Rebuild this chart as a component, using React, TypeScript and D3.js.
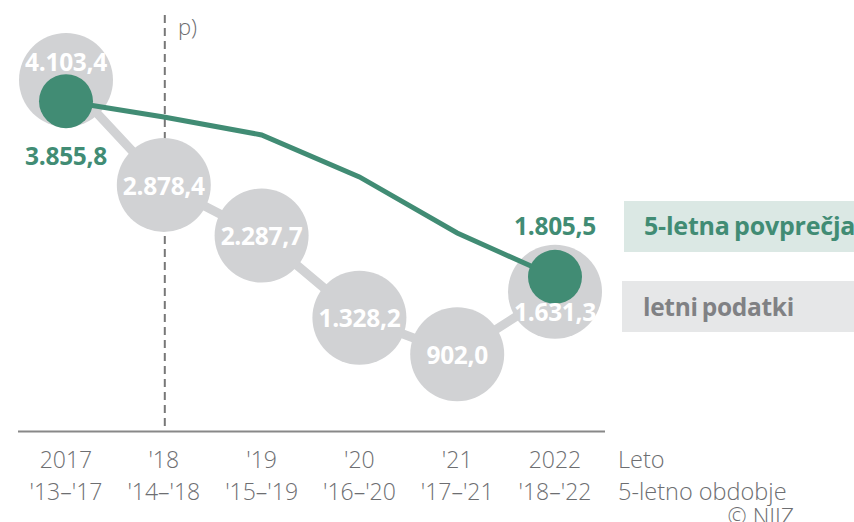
import React from "react";
import * as d3 from "d3";

const years = ["2017", "'18", "'19", "'20", "'21", "2022"];
const periods = ["'13–'17", "'14–'18", "'15–'19", "'16–'20", "'17–'21", "'18–'22"];
const yearly = [4103.4, 2878.4, 2287.7, 1328.2, 902.0, 1631.3];
const avg5 = [3855.8, 3672, 3462, 2972, 2318, 1805.5];
const yearlyLabels = ["4.103,4", "2.878,4", "2.287,7", "1.328,2", "902,0", "1.631,3"];
const avgLabels: (string | null)[] = ["3.855,8", null, null, null, null, "1.805,5"];

const W = 854, H = 522;
const GREEN = "#418c74";
const GREY = "#d1d2d4";
const TXT = "#6d6e71";
const FONT = "'Open Sans', 'Noto Sans', sans-serif";

export default function App() {
  const x = d3.scalePoint<string>().domain(years).range([66, 555]);
  const y = d3.scaleLinear().domain([0, 4103.4]).range([431.5, 80]);
  const line = d3.line<number>().x((_, i) => x(years[i])!).y((d) => y(d));
  const greyDy = (i: number) => (i === 0 ? -18 : i === years.length - 1 ? 21 : 1);
  const greenDy = (i: number) => (i === 0 ? 55 : -50);

  return (
    <svg width={W} height={H} style={{ position: "absolute", left: 0, top: 0, fontFamily: FONT }}>
      <rect width={W} height={H} fill="#fff" />
      {/* dashed projection line */}
      <line x1={x("'18")! + 1} x2={x("'18")! + 1} y1={15} y2={431} stroke="#777" strokeWidth={2} strokeDasharray="8,5" />
      <text x={178} y={35} fontSize={22} fill={TXT} fontWeight={300}>p)</text>
      {/* axis */}
      <line x1={18} x2={605} y1={431.5} y2={431.5} stroke="#888" strokeWidth={2} />
      {years.map((yr, i) => (
        <g key={yr}>
          <text x={x(yr)} y={468} textAnchor="middle" fontSize={23} fill={TXT} fontWeight={300}>{yr}</text>
          <text x={x(yr)} y={500} textAnchor="middle" fontSize={23} fill={TXT} fontWeight={300}>{periods[i]}</text>
        </g>
      ))}
      <text x={618} y={468} fontSize={23.5} fill={TXT} fontWeight={300}>Leto</text>
      <text x={618} y={500} fontSize={23.5} fill={TXT} fontWeight={300}>5-letno obdobje</text>
      <text x={794} y={525} textAnchor="end" fontSize={23} fill={TXT} fontWeight={300}>© NIJZ</text>

      {/* yearly grey */}
      <path d={line(yearly)!} fill="none" stroke={GREY} strokeWidth={9} />
      {yearly.map((v, i) => (
        <circle key={i} cx={x(years[i])} cy={y(v)} r={47} fill={GREY} />
      ))}
      {/* 5-year averages */}
      <path d={line(avg5)!} fill="none" stroke={GREEN} strokeWidth={5} />
      {avg5.map((v, i) =>
        avgLabels[i] ? <circle key={i} cx={x(years[i])} cy={y(v)} r={27} fill={GREEN} /> : null
      )}
      {yearly.map((v, i) => (
        <text key={i} x={x(years[i])} y={y(v) + greyDy(i)} dy="0.35em" textAnchor="middle" fontSize={24.5} fontWeight={700} letterSpacing={-0.3} fill="#fff">
          {yearlyLabels[i]}
        </text>
      ))}
      {avg5.map((v, i) =>
        avgLabels[i] ? (
          <text key={i} x={x(years[i])} y={y(v) + greenDy(i)} dy="0.35em" textAnchor="middle" fontSize={24.5} fontWeight={700} letterSpacing={-0.3} fill={GREEN}>
            {avgLabels[i]}
          </text>
        ) : null
      )}
      {/* legend */}
      <rect x={624} y={201} width={240} height={51} fill="#dbe8e4" />
      <text x={644} y={235} fontSize={25} fontWeight={700} letterSpacing={-0.2} wordSpacing={-2} fill={GREEN}>5-letna povprečja</text>
      <rect x={622} y={281} width={240} height={51} fill="#e6e7e8" />
      <text x={643} y={316} fontSize={24.5} fontWeight={700} letterSpacing={-0.3} wordSpacing={-2} fill="#808184">letni podatki</text>
    </svg>
  );
}
